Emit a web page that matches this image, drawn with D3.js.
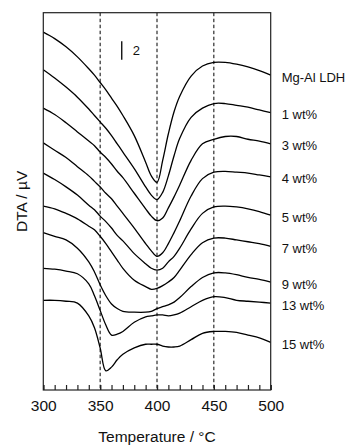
<!DOCTYPE html>
<meta charset="utf-8"/>
<title>DTA curves</title>
<style>
    body {
        margin: 0;
        background: #fff;
    }

    text {
        font-family: "Liberation Sans", Arial, sans-serif;
        fill: #111;
    }

    .curve {
        fill: none;
        stroke: #000;
        stroke-width: 1.3px;
    }

    .guide {
        stroke: #000;
        stroke-width: 1px;
        stroke-dasharray: 3.5, 2.5;
    }

    .frame {
        fill: none;
        stroke: #222;
        stroke-width: 1.2px;
    }

    .axis path {
        display: none;
    }

    .axis line {
        stroke: #222;
        stroke-width: 1.2px;
    }
</style>
<script src="https://cdn.jsdelivr.net/npm/d3@7"></script>
<svg id="chart" width="347" height="445"></svg>
<script>
    "use strict";

    // temperature grid (°C) shared by all curves
    const temps = [300, 310, 320, 330, 340, 345, 350, 355, 360, 365, 370, 380, 390, 395,
        400, 405, 410, 415, 420, 430, 440, 450, 460, 470, 480, 490, 500];

    // DTA signal (µV, curves stacked with their plot offset)
    const ldh = [39.1, 38.4, 37.5, 36.4, 35.1, 34.4, 33.6, 32.8, 31.9, 31.0, 30.0, 27.8, 24.9, 23.4,
        22.7, 25.1, 28.0, 30.4, 32.1, 34.3, 35.4, 35.8, 35.8, 35.6, 35.3, 34.9, 34.4];
    const wt1 = [35.0, 34.1, 33.1, 32.0, 30.7, 30.0, 29.3, 28.6, 27.8, 26.9, 26.0, 24.2, 22.2, 21.3,
        20.8, 21.6, 23.4, 25.6, 27.5, 29.8, 30.8, 31.3, 31.3, 31.1, 30.9, 30.6, 30.3];
    const wt3 = [30.8, 30.1, 29.2, 28.2, 27.2, 26.7, 26.0, 25.4, 24.7, 23.9, 23.2, 21.5, 19.8, 19.0,
        18.5, 18.8, 19.9, 21.1, 22.4, 25.1, 26.9, 27.4, 27.7, 27.7, 27.4, 27.2, 26.9];
    const wt4 = [27.0, 26.2, 25.4, 24.4, 23.4, 22.8, 22.2, 21.5, 20.9, 20.1, 19.3, 17.7, 16.0, 15.2,
        14.6, 15.0, 16.0, 17.2, 18.5, 21.2, 23.1, 23.8, 23.9, 23.8, 23.7, 23.5, 23.3];
    const wt5 = [23.7, 23.0, 22.2, 21.3, 20.2, 19.7, 19.0, 18.4, 17.7, 16.9, 16.3, 14.9, 13.8, 13.3,
        13.1, 13.3, 14.0, 14.6, 15.5, 17.6, 19.3, 20.0, 20.1, 20.0, 19.8, 19.5, 19.1];
    const wt7 = [20.1, 19.8, 19.3, 18.7, 17.9, 17.5, 16.8, 16.0, 15.1, 14.2, 13.3, 12.0, 11.3, 11.0,
        11.1, 11.4, 11.8, 12.3, 13.1, 14.8, 16.1, 16.6, 16.6, 16.4, 16.2, 16.0, 15.7];
    const wt9 = [17.2, 16.8, 16.4, 15.5, 14.0, 12.9, 11.5, 10.3, 9.4, 8.9, 8.6, 8.5, 8.5, 8.6,
        8.9, 9.1, 9.3, 9.6, 10.1, 11.3, 12.3, 12.8, 12.8, 12.6, 12.3, 12.1, 11.8];
    const wt13 = [13.3, 13.2, 13.0, 12.7, 11.6, 10.3, 8.7, 7.1, 6.0, 6.1, 6.4, 7.4, 8.0, 8.1,
        8.2, 8.2, 8.1, 8.2, 8.4, 9.1, 9.8, 10.2, 10.1, 9.8, 9.7, 9.6, 9.5];
    const wt15 = [9.8, 9.8, 9.7, 9.5, 8.1, 6.8, 4.6, 2.1, 2.5, 3.3, 3.9, 4.6, 5.0, 5.0,
        5.0, 4.8, 4.7, 4.7, 4.8, 5.5, 6.2, 6.4, 6.4, 6.3, 6.0, 5.7, 5.2];

    const names = ["Mg-Al LDH", "1 wt%", "3 wt%", "4 wt%", "5 wt%", "7 wt%", "9 wt%", "13 wt%", "15 wt%"];
    const series = [ldh, wt1, wt3, wt4, wt5, wt7, wt9, wt13, wt15];

    const xTicks = [300, 350, 400, 450, 500];
    const guides = [350, 400, 450];
    const scaleBar = {t: 369, from: 36.1, size: 2};

    const width = 347;
    const height = 445;
    const margin = {top: 12.7, right: 76.3, bottom: 55, left: 43.3};

    const svg = d3.select("#chart");

    const x = d3.scaleLinear()
        .domain([300, 500])
        .range([margin.left, width - margin.right]);

    const y = d3.scaleLinear()
        .domain([0, 41.23])
        .range([height - margin.bottom, margin.top]);

    // dashed guides at 350 / 400 / 450 °C
    svg.append("g").selectAll("line")
        .data(guides)
        .enter()
        .append("line")
        .attr("class", "guide")
        .attr("x1", function (d) { return x(d); })
        .attr("x2", function (d) { return x(d); })
        .attr("y1", y.range()[1])
        .attr("y2", y.range()[0]);

    // minor + major ticks pointing inward
    svg.append("g")
        .attr("class", "axis")
        .attr("transform", "translate(0," + y.range()[0] + ")")
        .call(d3.axisBottom(x).tickValues(d3.range(300, 501, 10)).tickSize(-5).tickFormat(""));

    svg.append("g")
        .attr("class", "axis")
        .attr("transform", "translate(0," + y.range()[0] + ")")
        .call(d3.axisBottom(x).tickValues(xTicks).tickSize(-5).tickPadding(10))
        .selectAll("text")
        .style("font-size", "15.5px");

    const line = d3.line()
        .x(function (d, i) { return x(temps[i]); })
        .y(function (d) { return y(d); })
        .curve(d3.curveCatmullRom.alpha(0.5));

    svg.append("g").selectAll("path")
        .data(series)
        .enter()
        .append("path")
        .attr("class", "curve")
        .attr("d", line);

    // curve names beside the right end
    svg.append("g").selectAll("text")
        .data(series)
        .enter()
        .append("text")
        .attr("x", x(500) + 11)
        .attr("y", function (d) { return y(d[d.length - 1]) + 2; })
        .attr("dy", "0.35em")
        .style("font-size", "13px")
        .text(function (d, i) { return names[i]; });

    // scale bar
    svg.append("line")
        .attr("x1", x(scaleBar.t))
        .attr("x2", x(scaleBar.t))
        .attr("y1", y(scaleBar.from))
        .attr("y2", y(scaleBar.from + scaleBar.size))
        .attr("stroke", "#000")
        .attr("stroke-width", 1.3);

    svg.append("text")
        .attr("x", x(scaleBar.t) + 11)
        .attr("y", y(scaleBar.from + scaleBar.size / 2))
        .attr("dy", "0.35em")
        .style("font-size", "13px")
        .text(scaleBar.size);

    svg.append("rect")
        .attr("class", "frame")
        .attr("x", x.range()[0])
        .attr("y", y.range()[1])
        .attr("width", x.range()[1] - x.range()[0])
        .attr("height", y.range()[0] - y.range()[1]);

    svg.append("text")
        .attr("x", (x.range()[0] + x.range()[1]) / 2)
        .attr("y", 442)
        .attr("text-anchor", "middle")
        .style("font-size", "15.5px")
        .text("Temperature / °C");

    svg.append("text")
        .attr("transform", "translate(26.5," + ((y.range()[0] + y.range()[1]) / 2) + ") rotate(-90)")
        .attr("text-anchor", "middle")
        .style("font-size", "15.5px")
        .text("DTA / µV");
</script>
